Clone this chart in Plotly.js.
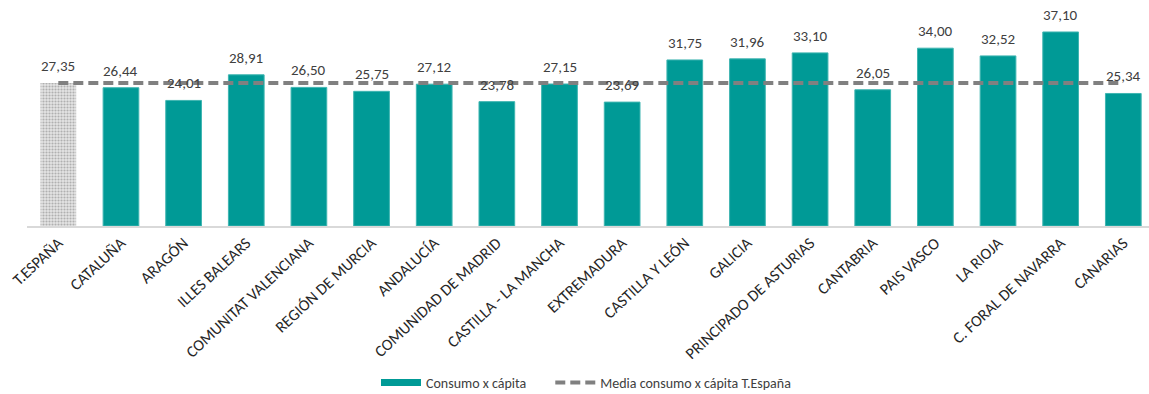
<!DOCTYPE html>
<html><head><meta charset="utf-8">
<script src="https://cdn.plot.ly/plotly-3.0.1.min.js"></script>
<style>html,body{margin:0;padding:0;background:#fff}</style>
</head><body><div id="chart" style="width:1149px;height:394px"></div>
<script>
const categories = ["T.ESPAÑA","CATALUÑA","ARAGÓN","ILLES BALEARS","COMUNITAT VALENCIANA","REGIÓN DE MURCIA","ANDALUCÍA","COMUNIDAD DE MADRID","CASTILLA - LA MANCHA","EXTREMADURA","CASTILLA Y LEÓN","GALICIA","PRINCIPADO DE ASTURIAS","CANTABRIA","PAIS VASCO","LA RIOJA","C. FORAL DE NAVARRA","CANARIAS"];
const consumo = [27.35,26.44,24.01,28.91,26.50,25.75,27.12,23.78,27.15,23.69,31.75,31.96,33.10,26.05,34.00,32.52,37.10,25.34];
const media = [27.35,27.35,27.35,27.35,27.35,27.35,27.35,27.35,27.35,27.35,27.35,27.35,27.35,27.35,27.35,27.35,27.35,27.35];

const font = "Carlito, Calibri, Lato, 'Open Sans', sans-serif";
const teal = "#009A96";
const fmt = v => v.toFixed(2).replace(".", ",");
const traces = [
  {type:"bar", x:[categories[0]], y:[consumo[0]], showlegend:false, width:0.57,
   marker:{color:"#D9D9D9", pattern:{shape:".", fgcolor:"#B0B0B0", bgcolor:"#E4E4E4", size:3, solidity:0.4}, line:{width:0}}},
  {type:"bar", name:"Consumo x cápita", x:categories.slice(1), y:consumo.slice(1), width:0.57, showlegend:false,
   marker:{color:teal, line:{width:1, color:"#3FB5B1"}}},
  {type:"scatter", mode:"lines", name:"Consumo x cápita      ", x:[null], y:[null],
   line:{color:teal, width:7}},
  {type:"scatter", mode:"lines", name:"Media consumo x cápita T.España", x:categories, y:media,
   line:{color:"#808080", width:4, dash:"10px,5px"}}
];
const annotations = categories.map((c, i) => ({
  x:c, y:consumo[i], xref:"x", yref:"y", text:fmt(consumo[i]), showarrow:false,
  yanchor:"bottom", yshift:6, font:{family:font, size:15, color:"#404040"}
}));
const layout = {
  width:1149, height:394, margin:{l:27,r:0,t:10,b:167.5},
  paper_bgcolor:"#fff", plot_bgcolor:"#fff",
  separators:",.",
  barmode:"overlay",
  font:{family:font, size:14, color:"#404040"},
  annotations: annotations,
  xaxis:{type:"category", categoryorder:"array", categoryarray:categories, range:[-0.5,17.41],
    automargin:false,
    tickangle:-43, showline:true, linecolor:"#D9D9D9", linewidth:1.5, ticks:"", showgrid:false,
    tickfont:{family:font,size:16,color:"#262626"}},
  yaxis:{range:[0,41.3], visible:false, showgrid:false, zeroline:false, automargin:false},
  showlegend:true,
  legend:{orientation:"h", xref:"container", yref:"container", x:0.51, xanchor:"center", y:0.028, yanchor:"middle",
    font:{family:font,size:14,color:"#404040"}, traceorder:"normal", itemwidth:40}
};
Plotly.newPlot("chart", traces, layout, {displayModeBar:false, staticPlot:true});
</script></body></html>
